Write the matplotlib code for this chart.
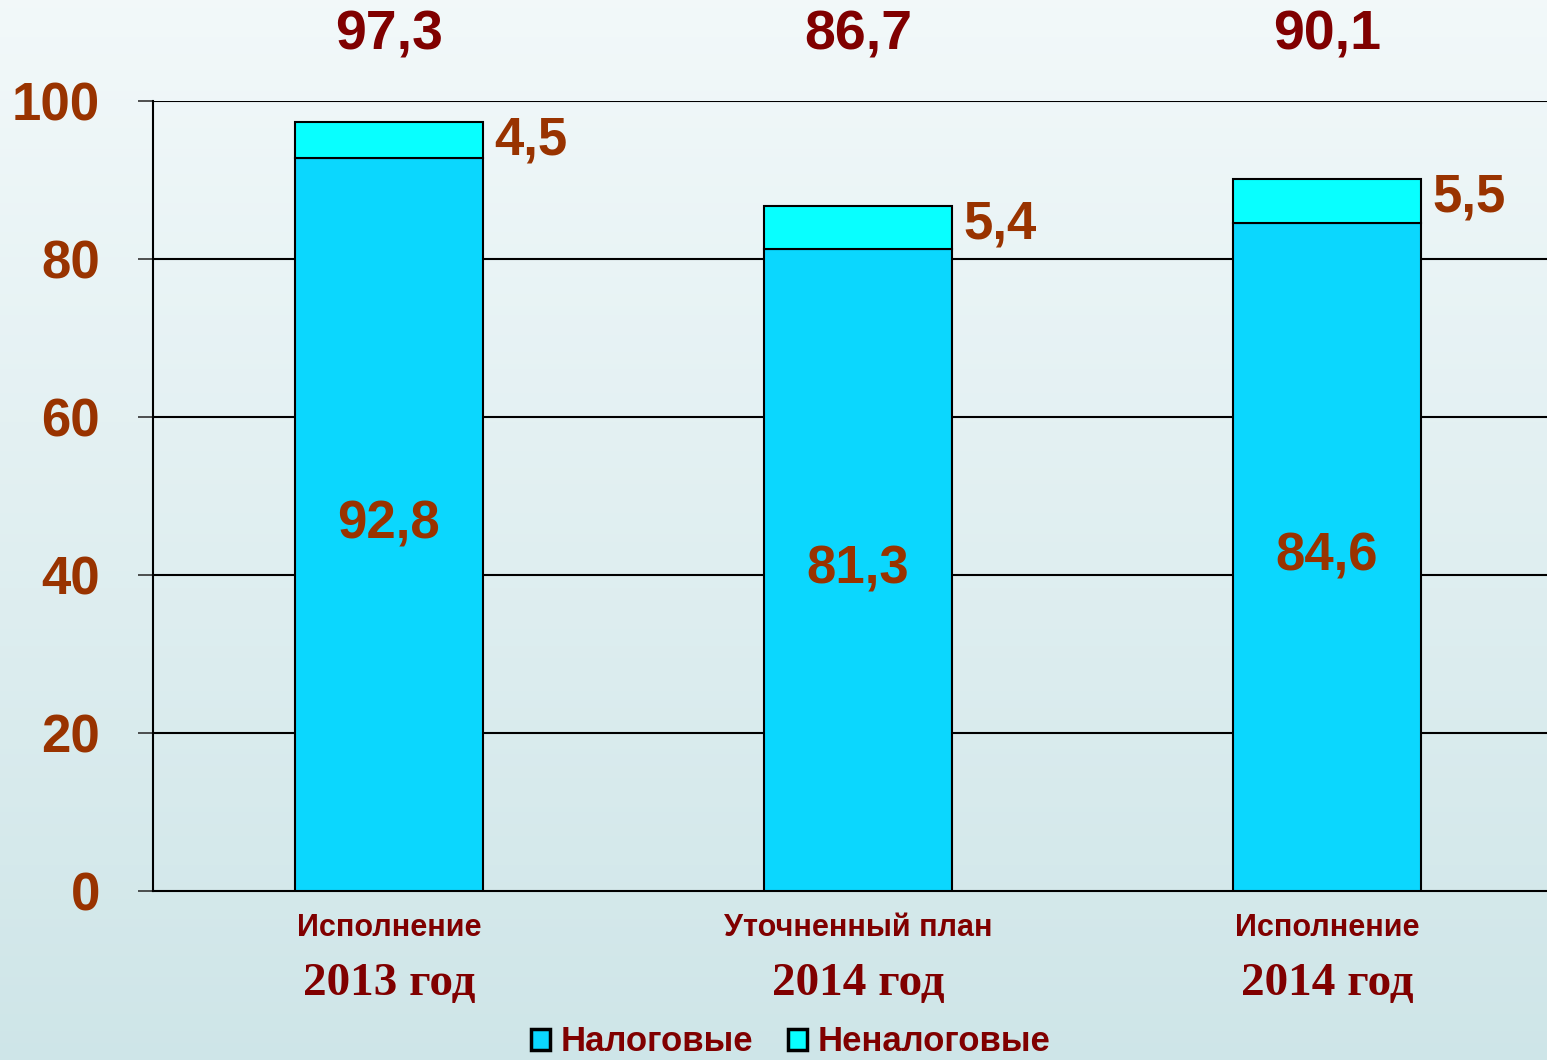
import numpy as np
import matplotlib
matplotlib.use('Agg')
import matplotlib.pyplot as plt
import matplotlib.transforms as mtransforms
from matplotlib.patches import Patch
from matplotlib import font_manager

# data
kinds = ['Исполнение', 'Уточненный план', 'Исполнение']
years = ['2013 год', '2014 год', '2014 год']
tax = [92.8, 81.3, 84.6]
non_tax = [4.5, 5.4, 5.5]
totals = [97.3, 86.7, 90.1]
series_names = ['Налоговые', 'Неналоговые']
yticks = [0, 20, 40, 60, 80, 100]

names = {f.name for f in font_manager.fontManager.ttflist}
narrow = 'Liberation Sans Narrow' if 'Liberation Sans Narrow' in names else 'Liberation Sans'
sans = 'Liberation Sans'
serif = 'Liberation Serif'

c_tax = '#0BD7FE'
c_non = '#08FFFF'
c_brown = '#993300'
c_dark = '#800000'

fig = plt.figure(figsize=(15.47, 10.60), dpi=100)

# background gradient
bg = fig.add_axes([0, 0, 1, 1], zorder=-10)
grad = np.linspace(0, 1, 256).reshape(-1, 1)
top = np.array([0.95, 0.975, 0.98])
bot = np.array([0.81, 0.90, 0.91])
img = top + (bot - top) * grad[:, :, None]
bg.imshow(img, aspect='auto', extent=(0, 1, 0, 1))
bg.set_axis_off()

ax = fig.add_axes([153 / 1547, 169 / 1060, 1 - 153 / 1547, 790 / 1060])
ax.patch.set_alpha(0)

x = np.arange(len(tax))
w = 0.4
ax.bar(x, tax, w, color=c_tax, edgecolor='black', linewidth=1.5, zorder=3)
ax.bar(x, non_tax, w, bottom=tax, color=c_non, edgecolor='black', linewidth=1.5, zorder=3)

ax.set_xlim(-0.503, 2.469)
ax.set_ylim(0, 100)
ax.set_yticks(yticks)
ax.set_yticklabels([str(t) for t in yticks], fontfamily=sans, fontweight='bold',
                   fontsize=38, color=c_brown)
ax.tick_params(axis='y', length=11, width=1.2, color='#333333', pad=27)
ax.set_xticks([])
for t in yticks[1:]:
    ax.axhline(t, color='black', lw=1.5, zorder=1)
for s in ['top', 'right']:
    ax.spines[s].set_visible(False)
ax.spines['left'].set_linewidth(1.5)
ax.spines['bottom'].set_linewidth(1.5)

for i in range(len(tax)):
    ax.text(x[i], tax[i] / 2, f'{tax[i]:.1f}'.replace('.', ','), ha='center', va='center',
            fontfamily=sans, fontweight='bold', fontsize=38, color=c_brown, zorder=4)
    ax.text(x[i] + w / 2 + 0.025, totals[i] - 2.3, f'{non_tax[i]:.1f}'.replace('.', ','),
            ha='left', va='center', fontfamily=sans, fontweight='bold', fontsize=38,
            color=c_brown, zorder=4)

trans = mtransforms.blended_transform_factory(ax.transData, ax.transAxes)
for i in range(len(tax)):
    ax.text(x[i], 1.0835, f'{totals[i]:.1f}'.replace('.', ','), transform=trans,
            ha='center', va='center', fontfamily=sans, fontweight='bold', fontsize=40,
            color=c_dark, clip_on=False)
    ax.text(x[i], -0.047, kinds[i], transform=trans, ha='center', va='center',
            fontfamily=narrow, fontweight='bold', fontsize=22, color=c_dark, clip_on=False)
    ax.text(x[i], -0.118, years[i], transform=trans, ha='center', va='center',
            fontfamily=serif, fontweight='bold', fontsize=34, color=c_dark, clip_on=False)

handles = [Patch(facecolor=c_tax, edgecolor='black', linewidth=2.5),
           Patch(facecolor=c_non, edgecolor='black', linewidth=2.5)]
leg = fig.legend(handles, series_names, loc='center', bbox_to_anchor=(0.511, 0.017),
                 ncol=2, frameon=False, handlelength=0.55, handleheight=0.55,
                 handletextpad=0.3, columnspacing=1.0,
                 prop={'family': narrow, 'weight': 'bold', 'size': 25})
for t in leg.get_texts():
    t.set_color(c_dark)

plt.savefig('out.png', dpi=100)
